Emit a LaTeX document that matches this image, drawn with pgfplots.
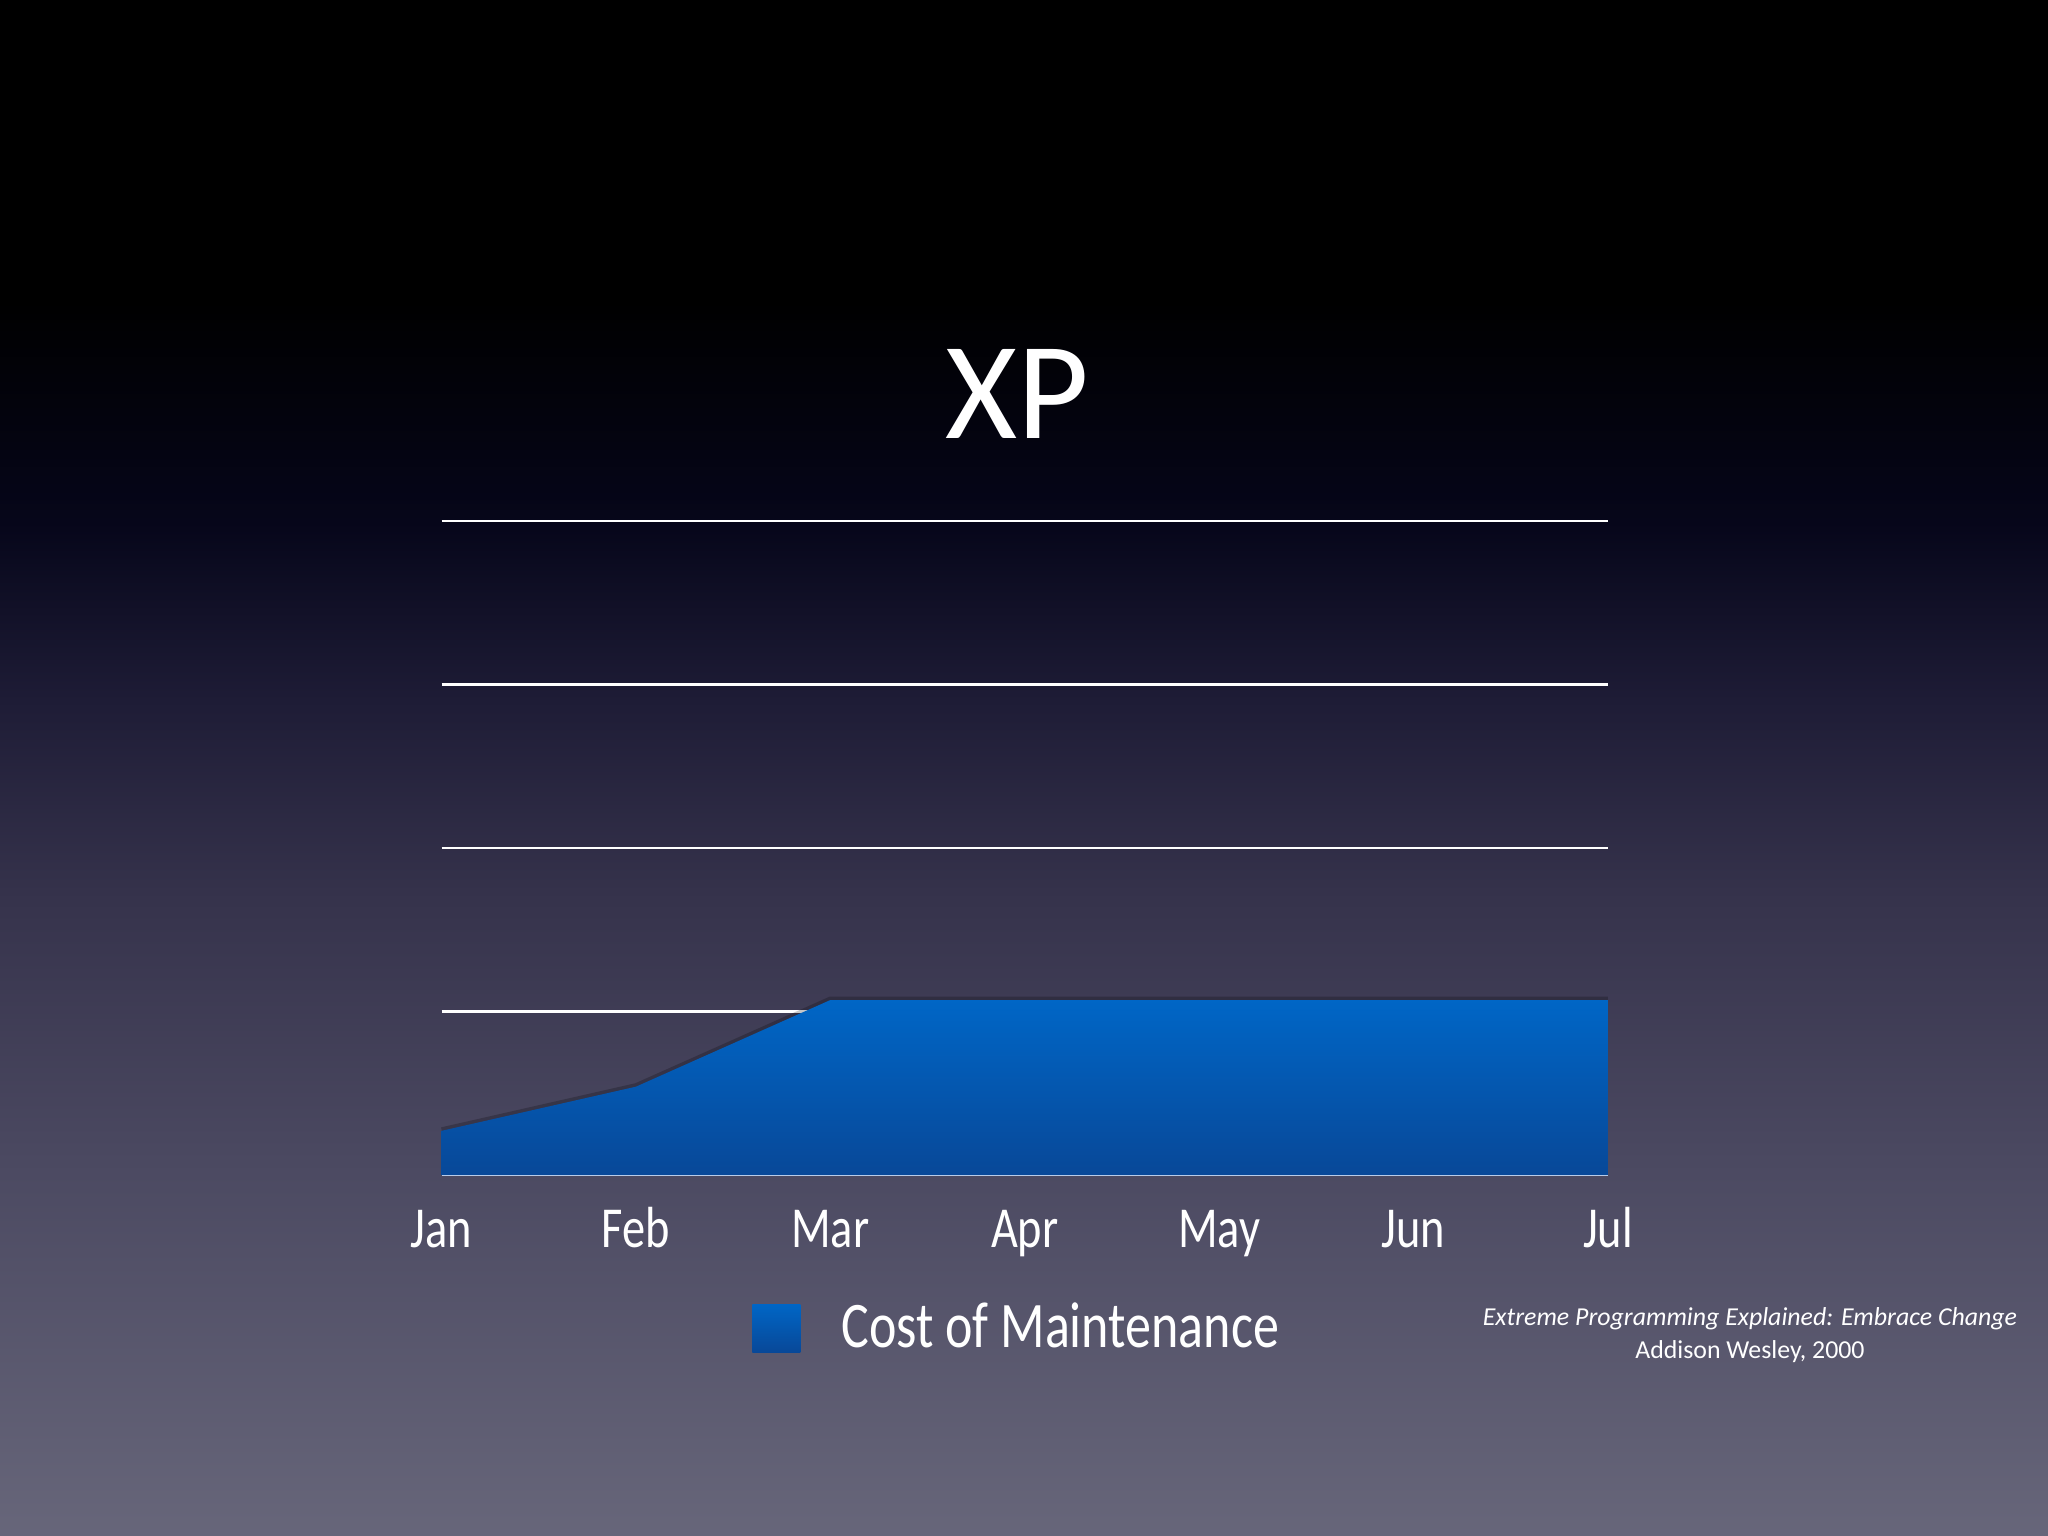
\documentclass[border=0pt]{standalone}
\usepackage{pgfplots}
\pgfplotsset{compat=1.18}
\usepackage{fontspec}
\setmainfont{Carlito}
\newfontfamily\narrowfont{Carlito}[FakeStretch=0.8]

\definecolor{areatop}{HTML}{0066C6}
\definecolor{areabot}{HTML}{084898}
\definecolor{baseln}{HTML}{B8CCEA}
% slide background, stops run bottom (25bp) to top (75bp)
\pgfdeclareverticalshading{slidebg}{100bp}{
  color(0bp)=(rgb,255:red,103;green,102;blue,122);
  color(25bp)=(rgb,255:red,103;green,102;blue,122);
  color(36.8bp)=(rgb,255:red,76;green,74;blue,98);
  color(45.7bp)=(rgb,255:red,54;green,51;blue,76);
  color(52.2bp)=(rgb,255:red,30;green,28;blue,54);
  color(58bp)=(rgb,255:red,6;green,6;blue,26);
  color(65.2bp)=(rgb,255:red,0;green,0;blue,0);
  color(100bp)=(rgb,255:red,0;green,0;blue,0)
}

\pgfplotstableread{
x  cost
0  0.27
1  0.54
2  1.07
3  1.07
4  1.07
5  1.07
6  1.07
}\maintdata

\begin{document}
\begin{tikzpicture}
\shade[shading=slidebg] (0,0) rectangle (204.8mm,153.6mm);

\begin{axis}[
  at={(44.15mm,36.1mm)},
  anchor=south west,
  scale only axis,
  width=116.65mm,
  height=65.4mm,
  xmin=0, xmax=6,
  ymin=0, ymax=4,
  axis x line*=bottom,
  axis y line*=left,
  x axis line style={-, draw=baseln, line width=0.5pt},
  y axis line style={draw=none},
  xtick={0,1,2,3,4,5,6},
  xticklabels={Jan,Feb,Mar,Apr,May,Jun,Jul},
  xticklabel style={anchor=base, yshift=-7.3mm, text=white, font=\narrowfont\fontsize{16.5}{20}\selectfont},
  major tick length=0pt,
  ytick={1,2,3,4},
  yticklabels={},
  ymajorgrids,
  major grid style={white, line width=0.6pt},
  title={XP},
  title style={at={(0.4934,1.162)}, anchor=center, text=white, font=\fontsize{39.5}{44}\selectfont},
  legend style={at={(0.266,-0.234)}, anchor=west, draw=none, fill=none, inner sep=0pt,
    nodes={inner sep=0pt, text=white, font=\narrowfont\fontsize{18.5}{22}\selectfont},
    /tikz/every odd column/.append style={column sep=4.1mm}},
  legend image code/.code={\shade[draw=none, top color=areatop, bottom color=areabot] (0mm,-2.4mm) rectangle (4.8mm,2.4mm);},
  clip=false,
]
% soft dark edge above the area
\addplot[draw=black, opacity=0.22, line width=1.2pt, forget plot, yshift=0.4pt]
  table[x=x, y=cost] {\maintdata};
\addplot[draw=none, top color=areatop, bottom color=areabot]
  table[x=x, y=cost] {\maintdata} \closedcycle;
\addlegendentry{Cost of Maintenance}

\node[text=white, align=center, font=\fontsize{7.35}{9.4}\selectfont]
  at (rel axis cs:1.1217,-0.2446)
  {\itshape Extreme Programming Explained: Embrace Change\\Addison Wesley, 2000};
\end{axis}

\pgfresetboundingbox
\useasboundingbox (0,0) rectangle (204.8mm,153.6mm);
\end{tikzpicture}
\end{document}
